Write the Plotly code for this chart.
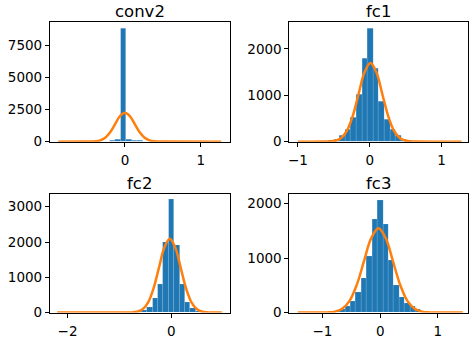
import plotly.graph_objects as go

# histogram bins (centres) and counts
conv2_centers = [-0.234, -0.162, -0.090, -0.018, 0.054, 0.126, 0.198, 0.270]
conv2_counts = [40, 120, 160, 8774, 180, 120, 60, 20]
conv2_width = 0.072

fc1_centers = [-0.614, -0.536, -0.458, -0.38, -0.302, -0.224, -0.146, -0.068, 0.01,
               0.088, 0.166, 0.244, 0.322, 0.4, 0.478, 0.556, 0.634]
fc1_counts = [10, 28, 55, 130, 254, 515, 1009, 1800, 2436, 1574, 868, 470, 254, 130, 55, 28, 10]
fc1_width = 0.078

fc2_centers = [-0.728, -0.624, -0.52, -0.416, -0.312, -0.208, -0.104, 0.0,
               0.104, 0.208, 0.312, 0.416, 0.52, 0.624]
fc2_counts = [15, 30, 55, 150, 400, 800, 1980, 3197, 1903, 790, 290, 120, 40, 15]
fc2_width = 0.104

fc3_centers = [-0.752, -0.658, -0.564, -0.47, -0.376, -0.282, -0.188, -0.094, 0.0,
               0.094, 0.188, 0.282, 0.376, 0.47, 0.564, 0.658, 0.752]
fc3_counts = [20, 61, 115, 204, 371, 634, 1040, 1715, 2068, 1625, 950, 491, 276, 174, 114, 61, 20]
fc3_width = 0.094

# fitted normal curves (orange)
conv2_fit_x = [-0.88, -0.52, -0.455, -0.39, -0.325, -0.26, -0.195, -0.13, -0.065, 0.0,
               0.065, 0.13, 0.195, 0.26, 0.325, 0.39, 0.455, 0.52, 1.27]
conv2_fit_y = [0, 1, 5, 25, 98, 303, 726, 1356, 1973, 2236,
               1973, 1356, 726, 303, 98, 25, 5, 1, 0]

fc1_fit_x = [-1.0, -0.65, -0.5675, -0.485, -0.4025, -0.32, -0.2375, -0.155, -0.0725, 0.01,
             0.0925, 0.175, 0.2575, 0.34, 0.4225, 0.505, 0.5875, 0.67, 1.28]
fc1_fit_y = [0, 0.5, 4, 19, 74, 229, 550, 1028, 1496, 1695,
             1496, 1028, 550, 229, 74, 19, 4, 0.5, 0]

fc2_fit_x = [-2.2, -0.87, -0.765, -0.66, -0.555, -0.45, -0.345, -0.24, -0.135, -0.03,
             0.075, 0.18, 0.285, 0.39, 0.495, 0.6, 0.705, 0.81, 0.97]
fc2_fit_y = [0, 0.6, 5, 23, 92, 283, 678, 1267, 1843, 2089,
             1843, 1267, 678, 283, 92, 23, 5, 0.6, 0]

fc3_fit_x = [-1.43, -1.038, -0.912, -0.786, -0.66, -0.534, -0.408, -0.282, -0.156, -0.03,
             0.096, 0.222, 0.348, 0.474, 0.6, 0.726, 0.852, 0.978, 1.43]
fc3_fit_y = [0, 0.5, 3, 17, 68, 209, 503, 939, 1366, 1548,
             1366, 939, 503, 209, 68, 17, 3, 0.5, 0]

names = ['conv2', 'fc1', 'fc2', 'fc3']
hists = [(conv2_centers, conv2_counts, conv2_width),
         (fc1_centers, fc1_counts, fc1_width),
         (fc2_centers, fc2_counts, fc2_width),
         (fc3_centers, fc3_counts, fc3_width)]
fits = [(conv2_fit_x, conv2_fit_y), (fc1_fit_x, fc1_fit_y),
        (fc2_fit_x, fc2_fit_y), (fc3_fit_x, fc3_fit_y)]

W, H = 472, 344
# axes boxes in pixels: left, right, top, bottom
boxes = [(49, 229, 23, 145), (289, 468, 23, 145), (49, 229, 199, 320), (289, 468, 199, 320)]
xranges = [[-0.99, 1.38], [-1.12, 1.37], [-2.34, 1.12], [-1.574, 1.522]]
yranges = [[0, 9250], [0, 2570], [0, 3350], [0, 2170]]
xdticks = [1, 1, 2, 1]
ydticks = [2500, 1000, 1000, 1000]

fig = go.Figure()
layout = {}
annotations = []
for i, name in enumerate(names):
    sfx = '' if i == 0 else str(i + 1)
    centers, counts, width = hists[i]
    fig.add_trace(go.Bar(x=centers, y=counts, width=width,
                         marker=dict(color='#1f77b4', line=dict(color='rgba(255,255,255,0.2)', width=0.5)),
                         xaxis='x' + sfx, yaxis='y' + sfx, showlegend=False))
    fx, fy = fits[i]
    fig.add_trace(go.Scatter(x=fx, y=fy, mode='lines', line=dict(color='#ff7f0e', width=2.5, shape='spline'),
                             xaxis='x' + sfx, yaxis='y' + sfx, showlegend=False))
    l, r, t, b = boxes[i]
    common = dict(showline=True, mirror=True, linecolor='black', linewidth=1, ticks='outside',
                  ticklen=4, tickcolor='black', showgrid=False, zeroline=False,
                  tickfont=dict(family='DejaVu Sans', size=13.5, color='black'))
    layout['xaxis' + sfx] = dict(domain=[l / W, r / W], anchor='y' + sfx, range=xranges[i],
                                 tick0=0, dtick=xdticks[i], ticklabelstandoff=2, **common)
    layout['yaxis' + sfx] = dict(domain=[1 - b / H, 1 - t / H], anchor='x' + sfx, range=yranges[i],
                                 tick0=0, dtick=ydticks[i], **common)
    annotations.append(dict(text=name, x=(l + r) / 2 / W, y=1 - t / H, xref='paper', yref='paper',
                            xanchor='center', yanchor='bottom', yshift=0, borderpad=0, showarrow=False,
                            font=dict(family='DejaVu Sans', size=16.5, color='black')))

fig.update_layout(width=W, height=H, margin=dict(l=0, r=0, t=0, b=0),
                  paper_bgcolor='white', plot_bgcolor='white', bargap=0,
                  annotations=annotations, **layout)
# page body has a default 8px margin, drop it so the figure sits at 0,0
fig.write_html("out.html", config={'displayModeBar': False},
               post_script="document.body.style.margin='0px';")
